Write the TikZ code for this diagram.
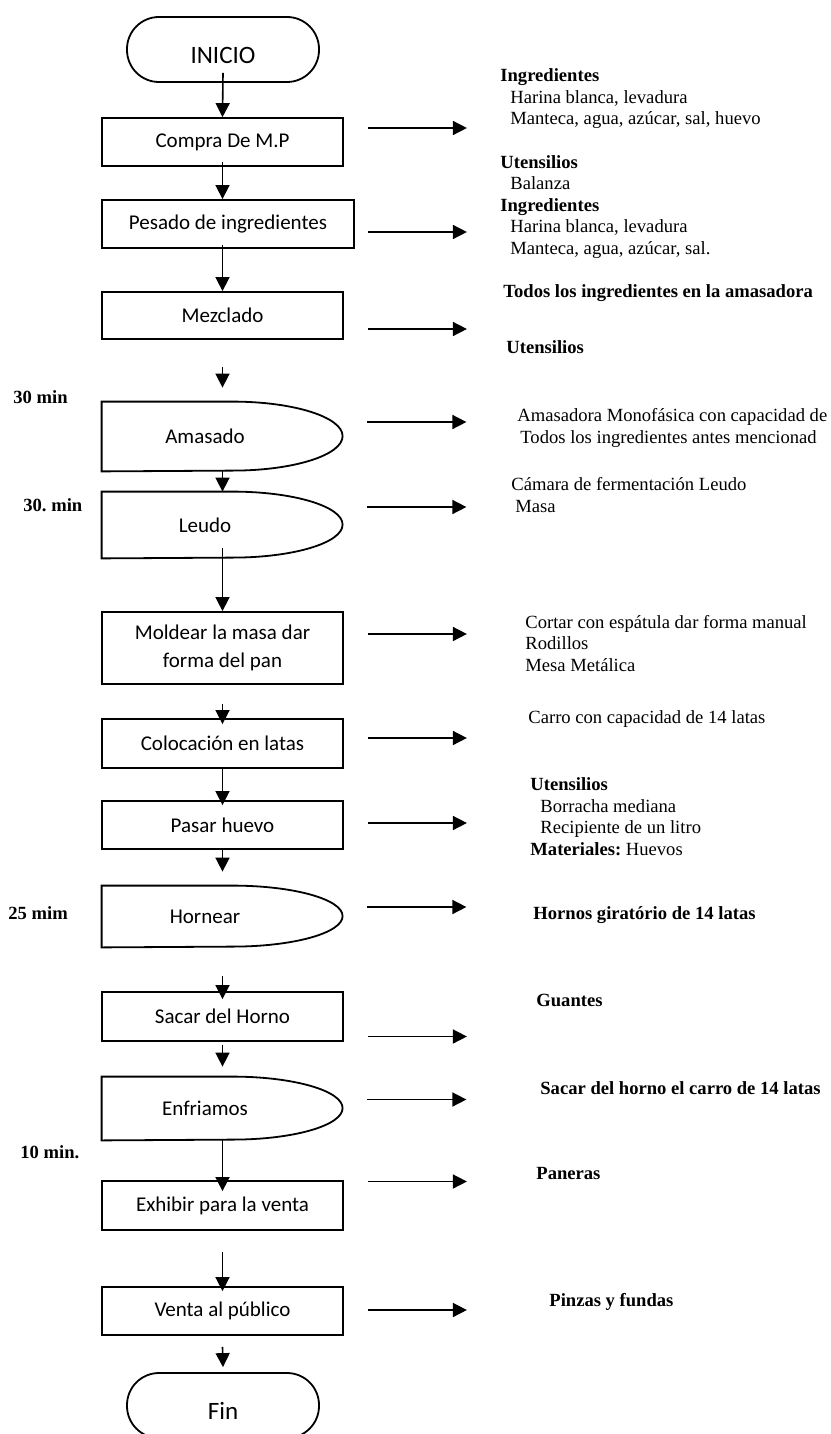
\documentclass[tikz,border=0pt]{standalone}
\usepackage{fontspec}
\setmainfont{Liberation Serif}
\newfontfamily\calibri{Carlito}
\usetikzlibrary{arrows.meta,calc}

\begin{document}
\frenchspacing
\begin{tikzpicture}[x=0.5pt,y=-0.5pt,
    borde/.style={black,line width=0.9pt},
    caja/.style={borde,draw,rectangle,minimum width=120.5pt,minimum height=24pt,font=\calibri\fontsize{10.5}{14}\selectfont,align=center},
    demora/.style={rectangle,minimum width=120.5pt,font=\calibri\fontsize{10.5}{14}\selectfont},
    term/.style={borde,draw,rounded corners=16pt,minimum width=96pt,minimum height=32.5pt,text height=14pt,text depth=0pt,font=\calibri\fontsize{12.5}{14}\selectfont},
    flecha/.style={black,line width=0.8pt,-{Triangle[length=7pt,width=7pt]}},
    nota/.style={anchor=base west,align=left,font=\fontsize{9.3}{10.75}\selectfont},
    tiempo/.style={anchor=base west,font=\bfseries\fontsize{9.3}{10.75}\selectfont}]
    \tikzstyle{every node}+=[inner sep=0pt]
    \useasboundingbox (0,0) rectangle (830,1434);
    % pasos
    \node[term] (ini) at (223,49.5) {INICIO};
    \node[caja] (com) at (222.5,142) {Compra De M.P};
    \node[caja,minimum width=126pt] (pes) at (228,224) {Pesado de ingredientes};
    \node[caja,minimum height=23.5pt] (mez) at (222.5,315.5) {Mezclado};
    \node[demora,minimum height=34.5pt] (ama) at (222.5,436.5) {Amasado\hspace*{17.5pt}};
    \draw[borde] (ama.north west) -- ++(131,0) arc[start angle=90,end angle=-90,x radius=55pt,y radius=17.25pt] -- (ama.south west) -- cycle;
    \node[demora,minimum height=33pt] (leu) at (222.5,525) {Leudo\hspace*{17.5pt}};
    \draw[borde] (leu.north west) -- ++(131,0) arc[start angle=90,end angle=-90,x radius=55pt,y radius=16.5pt] -- (leu.south west) -- cycle;
    \node[caja,minimum height=36pt] (mol) at (222.5,648) {Moldear la masa dar\\forma del pan};
    \node[caja,minimum height=24.5pt] (col) at (222.5,743.5) {Colocación en latas};
    \node[caja] (pas) at (222.5,825) {Pasar huevo};
    \node[demora,minimum height=30.5pt] (hor) at (222.5,916.5) {Hornear\hspace*{17.5pt}};
    \draw[borde] (hor.north west) -- ++(131,0) arc[start angle=90,end angle=-90,x radius=55pt,y radius=15.25pt] -- (hor.south west) -- cycle;
    \node[caja,minimum height=24.5pt] (sac) at (222.5,1016.5) {Sacar del Horno};
    \node[demora,minimum height=31.5pt] (enf) at (222.5,1108.5) {Enfriamos\hspace*{17.5pt}};
    \draw[borde] (enf.north west) -- ++(131,0) arc[start angle=90,end angle=-90,x radius=55pt,y radius=15.75pt] -- (enf.south west) -- cycle;
    \node[caja,minimum height=24.5pt] (exh) at (222.5,1205.5) {Exhibir para la venta};
    \node[caja] (ven) at (222.5,1311) {Venta al público};
    \node[term] (fin) at (223,1405.5) {Fin};
    % flechas hacia abajo
    \draw[flecha] ($(ini.south)+(0,-10)$) -- (com.north);
    \draw[flecha] ($(com.south)+(0,-5)$) -- (pes.north -| com.south);
    \draw[flecha] ($(pes.south -| mez.north)+(0,-4)$) -- (mez.north);
    \draw[flecha] ($(mez.south)+(0,27)$) -- ($(ama.north)+(0,-14)$);
    \draw[flecha] (ama.south) -- (leu.north);
    \draw[flecha] ($(leu.south)+(0,-10)$) -- (mol.north);
    \draw[flecha] ($(mol.south)+(0,19)$) -- ($(col.north)+(0,6)$);
    \draw[flecha] (col.south) -- ($(pas.north)+(0,5)$);
    \draw[flecha] (pas.south) -- ($(hor.north)+(0,-14)$);
    \draw[flecha] ($(hor.south)+(0,29)$) -- ($(sac.north)+(0,8)$);
    \draw[flecha] ($(sac.south)+(0,3)$) -- ($(enf.north)+(0,-10)$);
    \draw[flecha] (enf.south) -- ($(exh.north)+(0,11)$);
    \draw[flecha] ($(exh.south)+(0,21)$) -- ($(ven.north)+(0,5)$);
    \draw[flecha] ($(ven.south)+(0,11)$) -- ($(fin.north)+(0,-5)$);
    % flechas hacia la derecha
    \draw[flecha] ($(com.east)+(24,-14)$) -- ++(99,0);
    \draw[flecha] ($(pes.east)+(13,8)$) -- ++(99,0);
    \draw[flecha] ($(mez.east)+(24,13.5)$) -- ++(99,0);
    \draw[flecha] ($(ama.east)+(24,-14.5)$) -- ++(99,0);
    \draw[flecha] ($(leu.east)+(24,-18)$) -- ++(99,0);
    \draw[flecha] ($(mol.east)+(24,-14)$) -- ++(99,0);
    \draw[flecha] ($(col.east)+(24,-5.5)$) -- ++(99,0);
    \draw[flecha] ($(pas.east)+(24,-2)$) -- ++(99,0);
    \draw[flecha] ($(hor.east)+(24,-9.5)$) -- ++(99,0);
    \draw[flecha] ($(sac.east)+(24,20)$) -- ++(99,0);
    \draw[flecha] ($(enf.east)+(24,-9)$) -- ++(99,0);
    \draw[flecha] ($(exh.east)+(24,-24)$) -- ++(99,0);
    \draw[flecha] ($(ven.east)+(24,-1)$) -- ++(99,0);
    % materiales y utensilios (base = ultima linea)
    \node[nota] (txcom) at (500,125) {\textbf{Ingredientes}\\\hspace*{5pt}Harina blanca, levadura\\\hspace*{5pt}Manteca, agua, azúcar, sal, huevo};
    \node[nota] (txpes) at (500,254) {\textbf{Utensilios}\\\hspace*{5pt}Balanza\\\textbf{Ingredientes}\\\hspace*{5pt}Harina blanca, levadura\\\hspace*{5pt}Manteca, agua, azúcar, sal.};
    \node[nota] (txmez) at (503,297) {\textbf{Todos los ingredientes en la amasadora}};
    \node[nota] (txute) at (506,353) {\textbf{Utensilios}};
    \node[nota] (txama) at (517,443) {Amasadora Monofásica con capacidad de\\\hspace*{1.5pt}Todos los ingredientes antes mencionad};
    \node[nota] (txleu) at (511,512) {Cámara de fermentación Leudo\\\hspace*{2pt}Masa};
    \node[nota] (txmol) at (525,671) {Cortar con espátula dar forma manual\\Rodillos\\Mesa Metálica};
    \node[nota] (txcol) at (528,723) {Carro con capacidad de 14 latas};
    \node[nota] (txpas) at (530,855) {\textbf{Utensilios}\\\hspace*{5pt}Borracha mediana\\\hspace*{5pt}Recipiente de un litro\\\textbf{Materiales:} Huevos};
    \node[nota] (txhor) at (533,919) {\textbf{Hornos giratório de 14 latas}};
    \node[nota] (txsac) at (536,1006) {\textbf{Guantes}};
    \node[nota] (txenf) at (540,1094) {\textbf{Sacar del horno el carro de 14 latas}};
    \node[nota] (txexh) at (536,1179) {\textbf{Paneras}};
    \node[nota] (txven) at (549,1306) {\textbf{Pinzas y fundas}};
    % tiempos
    \node[tiempo] (tama) at (13,403) {30 min};
    \node[tiempo] (tleu) at (23,511) {30. min};
    \node[tiempo] (thor) at (8,919) {25 mim};
    \node[tiempo] (tenf) at (20,1158) {10 min.};
\end{tikzpicture}
\end{document}
